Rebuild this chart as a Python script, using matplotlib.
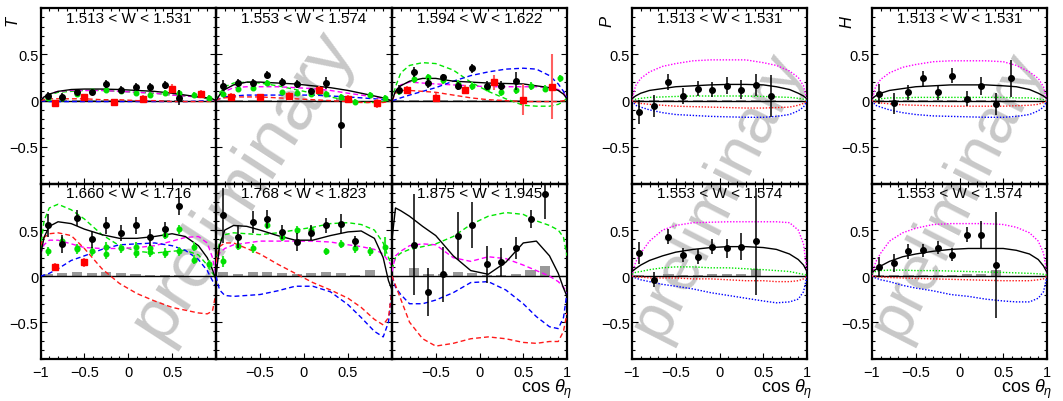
import numpy as np
import matplotlib.pyplot as plt
from matplotlib.ticker import MultipleLocator

plt.rcParams["font.family"] = ["Liberation Sans", "DejaVu Sans"]
plt.rcParams["mathtext.fontset"] = "custom"
plt.rcParams["mathtext.rm"] = "Liberation Sans"
plt.rcParams["mathtext.it"] = "Liberation Sans:italic"

FIG_W, FIG_H = 1063, 402
NAN = np.nan

# bin centres of the cos(theta_eta) binning
BIN_X = [-0.917, -0.75, -0.583, -0.417, -0.25, -0.083, 0.083, 0.25, 0.417, 0.583, 0.75, 0.917]
RED_X = [-0.833, -0.5, -0.167, 0.167, 0.5, 0.833]
CURVE_X = [-1.0, -0.96, -0.9, -0.8, -0.65, -0.5, -0.3, -0.1, 0.1, 0.3, 0.5, 0.65, 0.8, 0.9, 0.96, 1.0]

T_TITLES = ["1.513 < W < 1.531", "1.553 < W < 1.574", "1.594 < W < 1.622",
            "1.660 < W < 1.716", "1.768 < W < 1.823", "1.875 < W < 1.945"]
PH_TITLES = ["1.513 < W < 1.531", "1.553 < W < 1.574"]

# ---------------- T, panel 1 ----------------
T1_BLACK_Y = [0.054, 0.04, 0.094, 0.094, 0.18, 0.12, 0.15, 0.145, 0.17, 0.03]
T1_BLACK_ERR = [0.04, 0.04, 0.035, 0.035, 0.04, 0.035, 0.035, 0.04, 0.045, 0.08]
T1_GREEN_Y = [0.03, 0.03, 0.07, 0.1, 0.12, 0.1, 0.08, 0.06, 0.08, 0.08, 0.06, 0.03]
T1_GREEN_ERR = [0.03] * 12
T1_RED_Y = [-0.03, 0.04, -0.02, 0.02, 0.13, 0.07]
T1_RED_ERR = [0.03, 0.03, 0.04, 0.04, 0.05, 0.04]
T1_GRAY = [0.005] * 10
T1_C_BLACK = [0.0, 0.04, 0.07, 0.10, 0.12, 0.125, 0.125, 0.12, 0.11, 0.10, 0.08, 0.06, 0.04, 0.03, 0.02, 0.0]
T1_C_GREEN = [0.0, 0.03, 0.06, 0.09, 0.10, 0.11, 0.11, 0.10, 0.09, 0.08, 0.06, 0.05, 0.04, 0.02, 0.01, 0.0]
T1_C_MAGENTA = [0.0, 0.04, 0.07, 0.10, 0.11, 0.11, 0.11, 0.10, 0.09, 0.08, 0.06, 0.05, 0.04, 0.03, 0.01, 0.0]
T1_C_BLUE = [0.0, -0.005, -0.01, -0.01, -0.01, -0.01, -0.01, -0.01, -0.01, -0.01, -0.01, -0.01, -0.005, 0.0, 0.0, 0.0]
T1_C_RED = [0.0, 0.01, 0.02, 0.02, 0.02, 0.02, 0.01, 0.01, 0.0, 0.0, -0.01, -0.01, -0.01, -0.01, -0.01, 0.0]

# ---------------- T, panel 2 ----------------
T2_BLACK_Y = [0.16, 0.19, 0.19, 0.28, 0.2, 0.18, 0.1, 0.19, -0.26]
T2_BLACK_ERR = [0.06, 0.04, 0.04, 0.04, 0.04, 0.04, 0.04, 0.06, 0.25]
T2_GREEN_Y = [0.07, 0.13, 0.14, 0.19, 0.09, 0.08, 0.07, 0.07, 0.04, -0.01, 0.06, 0.03]
T2_GREEN_ERR = [0.03] * 12
T2_RED_Y = [0.04, 0.04, 0.05, 0.12, 0.02, -0.03]
T2_RED_ERR = [0.04, 0.03, 0.04, 0.04, 0.04, 0.05]
T2_GRAY = [0.005, 0.005, 0.005, 0.005, 0.005, 0.005, 0.005, 0.005, 0.03]
T2_C_BLACK = [0.0, 0.06, 0.12, 0.17, 0.2, 0.2, 0.19, 0.18, 0.16, 0.14, 0.11, 0.08, 0.05, 0.03, 0.01, 0.0]
T2_C_GREEN = [0.0, 0.08, 0.15, 0.19, 0.2, 0.19, 0.16, 0.12, 0.08, 0.04, 0.0, -0.02, -0.02, -0.01, 0.0, 0.0]
T2_C_MAGENTA = [0.0, 0.05, 0.1, 0.14, 0.15, 0.15, 0.15, 0.14, 0.13, 0.11, 0.08, 0.06, 0.04, 0.02, 0.01, 0.0]
T2_C_BLUE = [0.0, 0.02, 0.04, 0.05, 0.06, 0.06, 0.06, 0.06, 0.06, 0.05, 0.04, 0.03, 0.02, 0.01, 0.0, 0.0]
T2_C_RED = [0.0, 0.02, 0.03, 0.04, 0.04, 0.04, 0.03, 0.02, 0.01, 0.0, -0.01, -0.02, -0.02, -0.02, -0.01, 0.0]

# ---------------- T, panel 3 ----------------
T3_BLACK_Y = [0.12, 0.31, 0.19, 0.25, 0.16, 0.35, 0.16, 0.16, 0.21]
T3_BLACK_ERR = [0.05, 0.05, 0.05, 0.04, 0.04, 0.05, 0.05, 0.05, 0.1]
T3_GREEN_Y = [0.1, 0.23, 0.25, 0.22, 0.18, 0.16, 0.14, 0.09, 0.11, 0.16, 0.13, 0.24]
T3_GREEN_ERR = [0.04] * 12
T3_RED_Y = [0.12, 0.03, 0.12, 0.2, 0.01, 0.15]
T3_RED_ERR = [0.04, 0.05, 0.05, 0.08, 0.17, 0.35]
T3_GRAY = [0.005] * 9
T3_C_BLACK = [0.0, 0.1, 0.16, 0.21, 0.24, 0.24, 0.21, 0.2, 0.19, 0.185, 0.18, 0.16, 0.14, 0.11, 0.07, 0.02]
T3_C_GREEN = [0.0, 0.15, 0.3, 0.38, 0.41, 0.4, 0.33, 0.2, 0.1, 0.02, -0.05, -0.06, -0.06, -0.04, -0.01, 0.03]
T3_C_MAGENTA = [0.0, 0.1, 0.17, 0.2, 0.19, 0.18, 0.17, 0.16, 0.15, 0.15, 0.15, 0.15, 0.14, 0.12, 0.08, 0.03]
T3_C_BLUE = [0.0, 0.01, 0.03, 0.06, 0.1, 0.14, 0.21, 0.27, 0.31, 0.34, 0.35, 0.34, 0.27, 0.18, 0.1, 0.03]
T3_C_RED = [0.0, 0.08, 0.11, 0.11, 0.1, 0.09, 0.06, 0.03, 0.01, 0.0, -0.01, -0.01, -0.01, -0.01, 0.0, 0.0]

# ---------------- T, panel 4 ----------------
T4_BLACK_Y = [0.55, 0.35, 0.63, 0.40, 0.55, 0.47, 0.55, 0.42, 0.51, 0.76]
T4_BLACK_ERR = [0.12, 0.1, 0.09, 0.09, 0.09, 0.09, 0.09, 0.09, 0.08, 0.1]
T4_GREEN_Y = [0.27, 0.38, 0.30, 0.27, 0.32, 0.30, 0.32, 0.30, 0.45, 0.51, 0.32, 0.13]
T4_GREEN_B_Y = [NAN, NAN, 0.29, NAN, 0.24, NAN, 0.25, 0.26, 0.25, 0.27, 0.18, NAN]
T4_GREEN_ERR = [0.05] * 12
T4_RED_Y = [0.1, 0.15]
T4_RED_ERR = [0.04, 0.05]
T4_GRAY = [0.02, 0.03, 0.05, 0.03, 0.04, 0.03, 0.02, 0.01, 0.01, 0.01]
T4_C_BLACK = [0.22, 0.42, 0.54, 0.59, 0.57, 0.51, 0.45, 0.41, 0.41, 0.43, 0.46, 0.43, 0.33, 0.2, 0.07, -0.04]
T4_C_GREEN = [0.29, 0.6, 0.74, 0.78, 0.72, 0.62, 0.45, 0.33, 0.27, 0.25, 0.27, 0.28, 0.23, 0.12, 0.03, -0.02]
T4_C_MAGENTA = [0.24, 0.34, 0.39, 0.39, 0.35, 0.31, 0.3, 0.3, 0.31, 0.33, 0.38, 0.42, 0.43, 0.36, 0.2, 0.0]
T4_C_BLUE = [0.0, 0.01, 0.03, 0.08, 0.17, 0.22, 0.29, 0.34, 0.35, 0.36, 0.33, 0.28, 0.18, 0.06, -0.05, -0.11]
T4_C_RED = [0.33, 0.42, 0.46, 0.47, 0.44, 0.3, 0.08, -0.08, -0.19, -0.27, -0.34, -0.37, -0.4, -0.41, -0.38, -0.18]

# ---------------- T, panel 5 ----------------
T5_BLACK_Y = [0.66, 0.43, 0.59, 0.62, 0.48, 0.37, 0.47, 0.55, 0.57, 0.38]
T5_BLACK_ERR = [0.3, 0.12, 0.12, 0.1, 0.08, 0.1, 0.08, 0.08, 0.1, 0.06]
T5_GREEN_Y = [0.16, 0.33, 0.30, 0.55, 0.42, 0.5, 0.5, 0.27, 0.35, 0.30, 0.27, 0.32]
T5_GREEN_ERR = [0.06, 0.05, 0.05, 0.04, 0.04, 0.04, 0.04, 0.04, 0.04, 0.05, 0.05, 0.1]
T5_GRAY = [0.04, 0.02, 0.04, 0.04, 0.03, 0.02, 0.03, 0.04, 0.03, 0.01, 0.07]
T5_C_BLACK = [0.0, 0.33, 0.5, 0.55, 0.54, 0.5, 0.44, 0.39, 0.39, 0.44, 0.48, 0.49, 0.41, 0.2, -0.05, -0.15]
T5_C_GREEN = [0.13, 0.38, 0.45, 0.47, 0.46, 0.45, 0.47, 0.5, 0.53, 0.57, 0.58, 0.56, 0.5, 0.36, 0.2, 0.11]
T5_C_MAGENTA = [0.13, 0.25, 0.3, 0.34, 0.36, 0.38, 0.38, 0.38, 0.38, 0.37, 0.34, 0.32, 0.29, 0.24, 0.16, 0.11]
T5_C_BLUE = [0.0, -0.15, -0.21, -0.22, -0.21, -0.2, -0.16, -0.11, -0.11, -0.17, -0.31, -0.45, -0.6, -0.66, -0.5, -0.15]
T5_C_RED = [0.15, 0.32, 0.36, 0.36, 0.3, 0.24, 0.13, 0.03, -0.07, -0.15, -0.24, -0.34, -0.47, -0.53, -0.45, -0.15]

# ---------------- T, panel 6 (first bin empty) ----------------
T6_BLACK_Y = [NAN, 0.34, -0.17, 0.02, 0.44, 0.55, 0.13, 0.15, 0.31, 0.62, 0.89]
T6_BLACK_ERR = [NAN, 0.55, 0.26, 0.3, 0.26, 0.25, 0.2, 0.15, 0.12, 0.1, 0.27]
T6_GRAY = [0.0, 0.09, 0.02, 0.02, 0.05, 0.03, 0.01, 0.01, 0.02, 0.07, 0.11]
T6_C_BLACK = [0.4, 0.74, 0.71, 0.65, 0.54, 0.44, 0.22, 0.06, 0.02, 0.15, 0.36, 0.38, 0.22, 0.03, -0.13, -0.22]
T6_C_GREEN = [0.07, 0.2, 0.25, 0.29, 0.32, 0.35, 0.43, 0.56, 0.65, 0.69, 0.67, 0.6, 0.55, 0.5, 0.42, 0.22]
T6_C_MAGENTA = [0.05, 0.22, 0.27, 0.33, 0.35, 0.34, 0.2, 0.16, 0.21, 0.19, 0.12, 0.06, 0.0, -0.06, -0.12, -0.18]
T6_C_BLUE = [0.0, -0.12, -0.2, -0.3, -0.3, -0.26, -0.18, -0.07, -0.06, -0.15, -0.3, -0.44, -0.55, -0.57, -0.45, -0.18]
T6_C_RED = [0.0, -0.1, -0.25, -0.5, -0.68, -0.76, -0.73, -0.68, -0.66, -0.68, -0.72, -0.73, -0.71, -0.71, -0.6, -0.4]

# ---------------- P ----------------
P1_BLACK_Y = [-0.12, -0.06, 0.2, 0.05, 0.13, 0.12, 0.16, 0.12, 0.17, 0.05]
P1_BLACK_ERR = [0.13, 0.12, 0.09, 0.09, 0.08, 0.08, 0.09, 0.1, 0.12, 0.23]
P1_GRAY = [0.005] * 10
P1_C_BLACK = [0.02, 0.05, 0.08, 0.11, 0.13, 0.15, 0.16, 0.17, 0.175, 0.175, 0.17, 0.15, 0.12, 0.08, 0.05, 0.02]
P1_C_GREEN = [0.0, 0.015, 0.025, 0.035, 0.04, 0.045, 0.05, 0.05, 0.05, 0.05, 0.045, 0.04, 0.035, 0.025, 0.015, 0.0]
P1_C_MAGENTA = [0.0, 0.16, 0.24, 0.31, 0.37, 0.4, 0.43, 0.44, 0.44, 0.44, 0.41, 0.38, 0.32, 0.25, 0.16, 0.0]
P1_C_BLUE = [0.0, -0.05, -0.07, -0.1, -0.13, -0.15, -0.16, -0.17, -0.175, -0.18, -0.18, -0.17, -0.15, -0.11, -0.07, 0.0]
P1_C_RED = [0.0, -0.02, -0.03, -0.04, -0.05, -0.06, -0.065, -0.07, -0.075, -0.08, -0.08, -0.075, -0.07, -0.05, -0.03, 0.0]

P2_BLACK_Y = [0.25, -0.04, 0.43, 0.23, 0.21, 0.32, 0.3, 0.32, 0.38]
P2_BLACK_ERR = [0.12, 0.08, 0.08, 0.08, 0.08, 0.08, 0.1, 0.15, 0.58]
P2_GRAY = [0.01, 0.005, 0.02, 0.01, 0.01, 0.02, 0.02, 0.02, 0.08]
P2_C_BLACK = [0.05, 0.08, 0.12, 0.17, 0.22, 0.26, 0.29, 0.31, 0.32, 0.32, 0.31, 0.29, 0.24, 0.18, 0.12, 0.05]
P2_C_GREEN = [0.02, 0.04, 0.05, 0.07, 0.09, 0.1, 0.1, 0.09, 0.09, 0.08, 0.07, 0.06, 0.05, 0.03, 0.02, 0.01]
P2_C_MAGENTA = [0.0, 0.15, 0.25, 0.38, 0.5, 0.55, 0.58, 0.585, 0.59, 0.59, 0.59, 0.59, 0.58, 0.5, 0.35, 0.05]
P2_C_BLUE = [0.0, -0.02, -0.04, -0.06, -0.09, -0.11, -0.14, -0.18, -0.21, -0.24, -0.27, -0.29, -0.28, -0.25, -0.17, 0.0]
P2_C_RED = [0.0, -0.01, -0.01, -0.02, -0.02, -0.02, -0.03, -0.03, -0.04, -0.05, -0.05, -0.06, -0.06, -0.05, -0.03, 0.0]

# ---------------- H ----------------
H1_BLACK_Y = [0.07, -0.03, 0.09, 0.24, 0.09, 0.27, 0.02, 0.16, -0.04, 0.24]
H1_BLACK_ERR = [0.11, 0.11, 0.08, 0.08, 0.08, 0.08, 0.08, 0.1, 0.12, 0.2]
H1_GRAY = [0.005] * 10
H1_C_BLACK = [0.02, 0.05, 0.08, 0.11, 0.13, 0.15, 0.16, 0.17, 0.17, 0.17, 0.16, 0.15, 0.12, 0.08, 0.05, 0.02]
H1_C_GREEN = [0.0, 0.01, 0.02, 0.03, 0.03, 0.035, 0.035, 0.035, 0.035, 0.035, 0.035, 0.03, 0.03, 0.02, 0.01, 0.0]
H1_C_MAGENTA = [0.0, 0.15, 0.23, 0.3, 0.36, 0.39, 0.42, 0.43, 0.43, 0.43, 0.42, 0.38, 0.31, 0.24, 0.15, 0.0]
H1_C_BLUE = [0.0, -0.05, -0.07, -0.1, -0.13, -0.15, -0.165, -0.17, -0.175, -0.18, -0.18, -0.17, -0.15, -0.11, -0.07, 0.0]
H1_C_RED = [0.0, -0.015, -0.025, -0.035, -0.045, -0.05, -0.055, -0.06, -0.06, -0.06, -0.06, -0.055, -0.05, -0.04, -0.02, 0.0]

H2_BLACK_Y = [0.1, 0.14, 0.27, 0.28, 0.31, 0.23, 0.45, 0.45, 0.12]
H2_BLACK_ERR = [0.11, 0.1, 0.08, 0.07, 0.07, 0.07, 0.08, 0.15, 0.58]
H2_GRAY = [0.01, 0.01, 0.015, 0.01, 0.01, 0.01, 0.02, 0.02, 0.07]
H2_C_BLACK = [0.04, 0.07, 0.11, 0.16, 0.21, 0.24, 0.27, 0.29, 0.3, 0.3, 0.3, 0.28, 0.24, 0.18, 0.11, 0.04]
H2_C_GREEN = [0.03, 0.05, 0.06, 0.065, 0.065, 0.06, 0.06, 0.055, 0.05, 0.045, 0.04, 0.035, 0.03, 0.025, 0.02, 0.01]
H2_C_MAGENTA = [0.0, 0.15, 0.25, 0.38, 0.47, 0.52, 0.56, 0.57, 0.57, 0.57, 0.56, 0.53, 0.47, 0.38, 0.25, 0.02]
H2_C_BLUE = [0.0, -0.02, -0.04, -0.06, -0.1, -0.13, -0.16, -0.2, -0.22, -0.25, -0.27, -0.28, -0.28, -0.24, -0.17, 0.0]
H2_C_RED = [0.0, -0.005, -0.01, -0.015, -0.02, -0.025, -0.03, -0.035, -0.04, -0.045, -0.05, -0.05, -0.05, -0.04, -0.03, 0.0]

CURVE_COLORS = {"black": "black", "green": "#00e600", "magenta": "#ff00ff",
                "blue": "#0000ff", "red": "#ff1a1a"}


def make_axes(fig, x0, x1, y0, y1):
    """Achse in Pixelkoordinaten (Ursprung oben links) anlegen."""
    return fig.add_axes([x0 / FIG_W, 1 - y1 / FIG_H, (x1 - x0) / FIG_W, (y1 - y0) / FIG_H])


def style_axes(ax, title, xlabels=None, ylabels=False):
    ax.set_facecolor("none")
    ax.set_xlim(-1, 1)
    ax.set_ylim(-0.9, 1.0)
    ax.set_xticks([-1, -0.5, 0, 0.5, 1])
    ax.set_yticks([-0.5, 0, 0.5])
    ax.xaxis.set_minor_locator(MultipleLocator(0.1))
    ax.yaxis.set_minor_locator(MultipleLocator(0.1))
    ax.set_xticklabels(xlabels if xlabels else [""] * 5)
    ax.set_yticklabels(["\u22120.5", "0", "0.5"] if ylabels else [""] * 3)
    ax.tick_params(which="both", direction="in", top=True, right=True,
                   labelsize=10.5, width=0.8)
    ax.tick_params(which="major", length=4.5)
    ax.tick_params(which="minor", length=2.3)
    ax.tick_params(axis="x", pad=4)
    ax.tick_params(axis="y", pad=1.5)
    for s in ax.spines.values():
        s.set_linewidth(1.6)
    ax.axhline(0, color="black", lw=1.0, zorder=2)
    ax.text(0.5, 0.946, title, transform=ax.transAxes, ha="center", va="center",
            fontsize=11, zorder=6)


def draw_curves(ax, black, green, magenta, blue, red, dotted=False):
    dash = (1.0, 1.2) if dotted else (3.5, 2.2)
    lw = 1.0
    for name, vals in (("green", green), ("magenta", magenta), ("blue", blue), ("red", red)):
        ax.plot(CURVE_X, vals, color=CURVE_COLORS[name], lw=lw, dashes=dash, zorder=3)
    ax.plot(CURVE_X, black, color="black", lw=1.0, zorder=3.5)


def draw_gray(ax, heights):
    ax.bar(BIN_X[:len(heights)], heights, width=0.115, color="#999999", lw=0, zorder=1.5)


def draw_black(ax, y, err):
    n = len(y)
    ax.errorbar(BIN_X[:n], y, yerr=err, fmt="o", ms=4, color="black", ecolor="black",
                elinewidth=1.1, capsize=0, zorder=5)


def draw_green(ax, y, err):
    ax.errorbar(BIN_X[:len(y)], y, yerr=err, fmt="o", ms=3.3, color="#00e000",
                ecolor="#2ee62e", elinewidth=1.5, capsize=0, zorder=4)


def draw_red(ax, y, err):
    ax.errorbar(RED_X[:len(y)], y, yerr=err, fmt="s", ms=4, color="#ff0000",
                ecolor="#ff6060", elinewidth=1.5, capsize=0, zorder=4.2)


def main():
    fig = plt.figure(figsize=(FIG_W / 100, FIG_H / 100), dpi=100)

    t_cols = [40.5, 216, 392, 567]
    rows = [9, 185, 360]
    t_xlabels = [["\u22121", "\u22120.5", "0", "0.5", ""],
                 ["", "\u22120.5", "0", "0.5", ""],
                 ["", "\u22120.5", "0", "0.5", "1"]]
    full_xlabels = ["\u22121", "\u22120.5", "0", "0.5", "1"]

    t_curves = [
        (T1_C_BLACK, T1_C_GREEN, T1_C_MAGENTA, T1_C_BLUE, T1_C_RED),
        (T2_C_BLACK, T2_C_GREEN, T2_C_MAGENTA, T2_C_BLUE, T2_C_RED),
        (T3_C_BLACK, T3_C_GREEN, T3_C_MAGENTA, T3_C_BLUE, T3_C_RED),
        (T4_C_BLACK, T4_C_GREEN, T4_C_MAGENTA, T4_C_BLUE, T4_C_RED),
        (T5_C_BLACK, T5_C_GREEN, T5_C_MAGENTA, T5_C_BLUE, T5_C_RED),
        (T6_C_BLACK, T6_C_GREEN, T6_C_MAGENTA, T6_C_BLUE, T6_C_RED),
    ]
    t_black = [(T1_BLACK_Y, T1_BLACK_ERR), (T2_BLACK_Y, T2_BLACK_ERR), (T3_BLACK_Y, T3_BLACK_ERR),
               (T4_BLACK_Y, T4_BLACK_ERR), (T5_BLACK_Y, T5_BLACK_ERR), (T6_BLACK_Y, T6_BLACK_ERR)]
    t_gray = [T1_GRAY, T2_GRAY, T3_GRAY, T4_GRAY, T5_GRAY, T6_GRAY]
    t_green = [(T1_GREEN_Y, T1_GREEN_ERR), (T2_GREEN_Y, T2_GREEN_ERR), (T3_GREEN_Y, T3_GREEN_ERR),
               (T4_GREEN_Y, T4_GREEN_ERR), (T5_GREEN_Y, T5_GREEN_ERR), None]
    t_red = [(T1_RED_Y, T1_RED_ERR), (T2_RED_Y, T2_RED_ERR), (T3_RED_Y, T3_RED_ERR),
             (T4_RED_Y, T4_RED_ERR), None, None]

    for i in range(6):
        r, c = divmod(i, 3)
        ax = make_axes(fig, t_cols[c], t_cols[c + 1], rows[r], rows[r + 1])
        style_axes(ax, T_TITLES[i], xlabels=t_xlabels[c] if r == 1 else None, ylabels=(c == 0))
        draw_gray(ax, t_gray[i])
        draw_curves(ax, *t_curves[i])
        if t_green[i] is not None:
            draw_green(ax, *t_green[i])
        if i == 3:
            draw_green(ax, T4_GREEN_B_Y, T4_GREEN_ERR)
        if t_red[i] is not None:
            draw_red(ax, *t_red[i])
        draw_black(ax, *t_black[i])

    blocks = [
        ("P", 632, 807, [(P1_BLACK_Y, P1_BLACK_ERR, P1_GRAY,
                          (P1_C_BLACK, P1_C_GREEN, P1_C_MAGENTA, P1_C_BLUE, P1_C_RED)),
                         (P2_BLACK_Y, P2_BLACK_ERR, P2_GRAY,
                          (P2_C_BLACK, P2_C_GREEN, P2_C_MAGENTA, P2_C_BLUE, P2_C_RED))]),
        ("H", 872, 1047, [(H1_BLACK_Y, H1_BLACK_ERR, H1_GRAY,
                           (H1_C_BLACK, H1_C_GREEN, H1_C_MAGENTA, H1_C_BLUE, H1_C_RED)),
                          (H2_BLACK_Y, H2_BLACK_ERR, H2_GRAY,
                           (H2_C_BLACK, H2_C_GREEN, H2_C_MAGENTA, H2_C_BLUE, H2_C_RED))]),
    ]
    for label, x0, x1, panels in blocks:
        for r, (by, be, gray, curves) in enumerate(panels):
            ax = make_axes(fig, x0, x1, rows[r], rows[r + 1])
            style_axes(ax, PH_TITLES[r], xlabels=full_xlabels if r == 1 else None, ylabels=True)
            draw_gray(ax, gray)
            draw_curves(ax, *curves, dotted=True)
            draw_black(ax, by, be)

    # Achsentitel
    for lab, xpx in (("T", 12), ("P", 607), ("H", 847)):
        fig.text(xpx / FIG_W, 1 - 16 / FIG_H, lab, rotation=90, ha="center", va="top",
                 fontsize=12, style="italic")
    for xpx in (572, 812, 1052):
        fig.text(xpx / FIG_W, 1 - 393 / FIG_H, r"cos $\theta_{\eta}$", ha="right",
                 va="baseline", fontsize=13)

    # Wasserzeichen hinter den Achsen
    for xc, yc, rot, fs in ((243, 185, 57, 52), (717, 195, 63, 46), (957, 195, 63, 46)):
        fig.text(xc / FIG_W, 1 - yc / FIG_H, "preliminary", rotation=rot, ha="center",
                 va="center", fontsize=fs, color="#c8c8c8", zorder=-1)

    fig.savefig("out.png", dpi=100)


if __name__ == "__main__":
    main()
